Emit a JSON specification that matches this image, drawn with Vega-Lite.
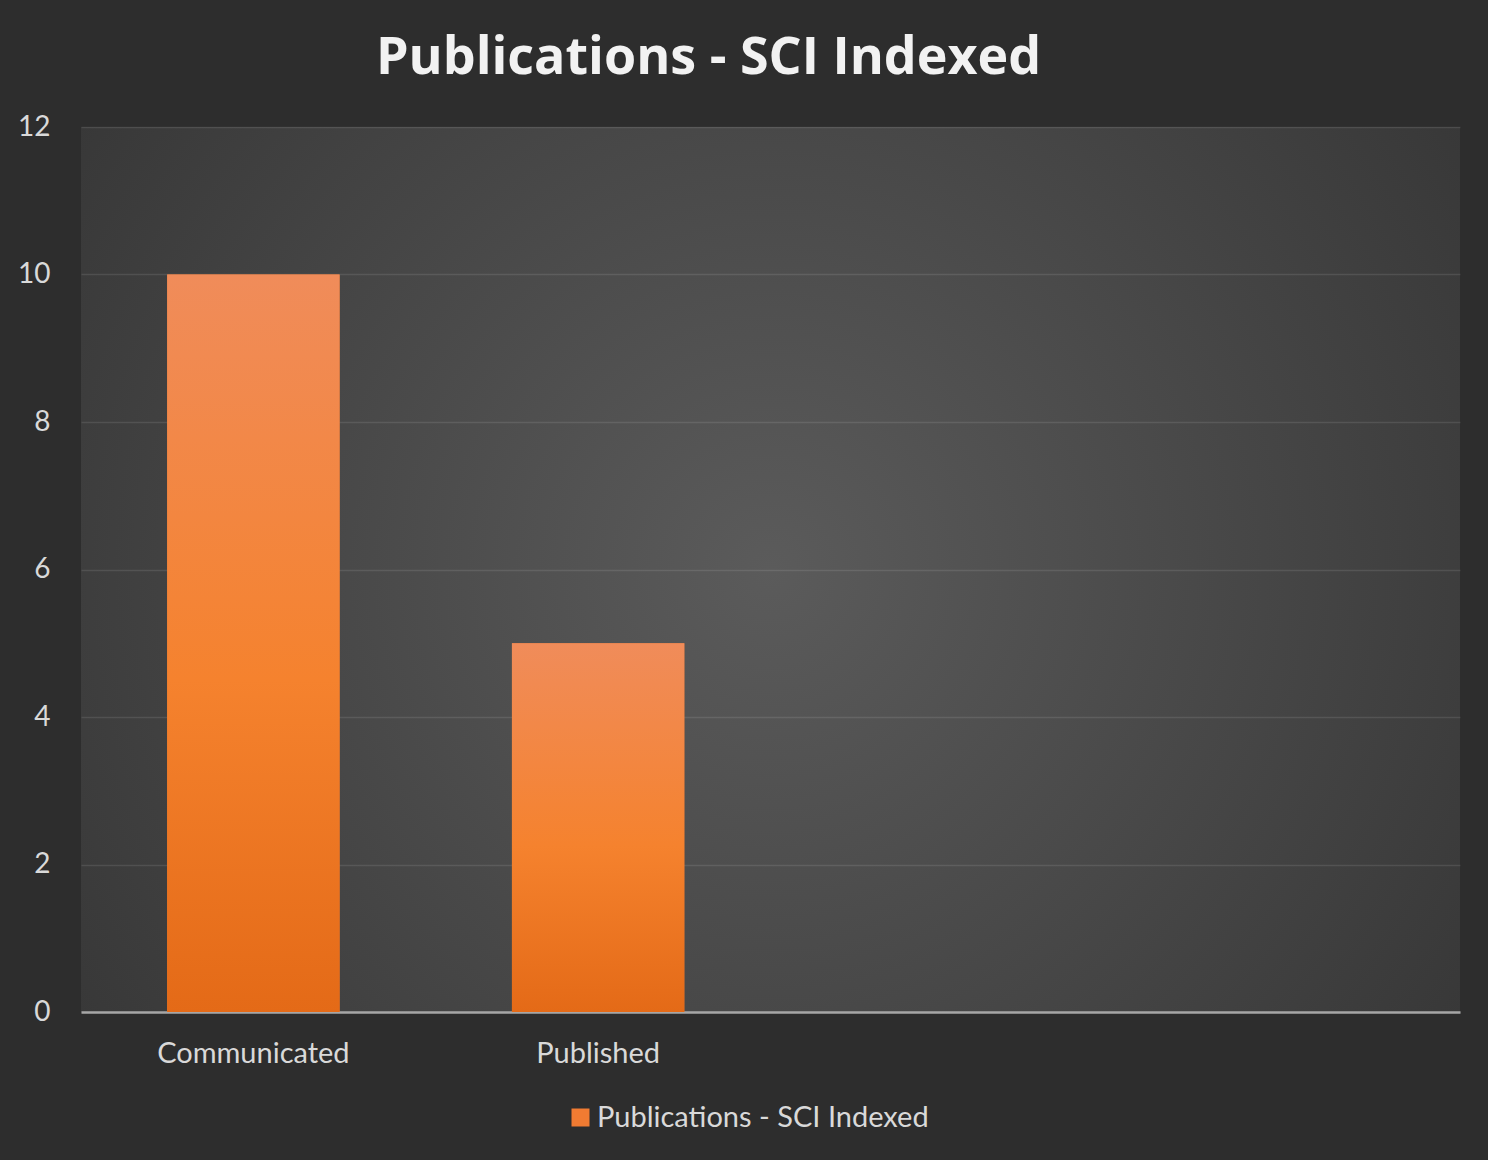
{
  "$schema": "https://vega.github.io/schema/vega-lite/v6.json",
  "width": 1379,
  "height": 885,
  "autosize": {"type": "none"},
  "padding": {"left": 81, "top": 127, "right": 28, "bottom": 148},
  "background": "#2d2d2d",
  "title": {
    "text": "Publications - SCI Indexed",
    "font": "Open Sans",
    "fontSize": 52,
    "fontWeight": "bold",
    "color": "#f2f2f2",
    "anchor": "middle",
    "dx": -62,
    "offset": 28
  },
  "data": {
    "values": [
      {"category": "Communicated", "value": 10, "series": "Publications - SCI Indexed"},
      {"category": "Published", "value": 5, "series": "Publications - SCI Indexed"}
    ]
  },
  "encoding": {
    "x": {
      "field": "category",
      "type": "nominal",
      "sort": null,
      "scale": {"domain": ["Communicated", "Published", " ", "  "], "paddingInner": 0.5, "paddingOuter": 0.25},
      "axis": {
        "title": null,
        "labelAngle": 0,
        "ticks": false,
        "domain": true,
        "domainColor": "#a6a6a6",
        "domainWidth": 2.5,
        "labelFont": "Lato",
        "labelFontSize": 29,
        "labelColor": "#d9d9d9",
        "labelPadding": 27,
        "labelLimit": 0,
        "grid": false
      }
    },
    "y": {
      "field": "value",
      "type": "quantitative",
      "scale": {"domain": [0, 12], "nice": false},
      "axis": {
        "title": null,
        "values": [0, 2, 4, 6, 8, 10, 12],
        "domain": false,
        "ticks": false,
        "labelFont": "Lato",
        "labelFontSize": 28,
        "labelColor": "#d9d9d9",
        "labelPadding": 31,
        "grid": true,
        "gridColor": "#ffffff",
        "gridOpacity": 0.1,
        "gridWidth": 1.5
      }
    }
  },
  "layer": [
    {
      "mark": {"type": "bar"},
      "encoding": {
        "color": {
          "field": "series",
          "type": "nominal",
          "scale": {"range": ["#f07b32"]},
          "legend": {
            "title": null,
            "orient": "none",
            "legendX": 485,
            "legendY": 976,
            "symbolType": "square",
            "symbolSize": 324,
            "symbolStrokeWidth": 0,
            "labelFont": "Lato",
            "labelFontSize": 29,
            "labelColor": "#d9d9d9",
            "labelOffset": 2,
            "labelLimit": 0
          }
        }
      }
    },
    {
      "mark": {
        "type": "bar",
        "fill": {
          "gradient": "linear",
          "x1": 0, "y1": 0, "x2": 0, "y2": 1,
          "stops": [
            {"offset": 0, "color": "#f08c5a"},
            {"offset": 0.55, "color": "#f5822e"},
            {"offset": 1, "color": "#e46a17"}
          ]
        }
      },
      "encoding": {}
    }
  ],
  "config": {
    "view": {
      "stroke": null,
      "fill": {
        "gradient": "radial",
        "x1": 0.5, "y1": 0.5, "r1": 0,
        "x2": 0.5, "y2": 0.5, "r2": 0.75,
        "stops": [
          {"offset": 0, "color": "#5b5b5b"},
          {"offset": 1, "color": "#2f2f2f"}
        ]
      }
    }
  }
}
